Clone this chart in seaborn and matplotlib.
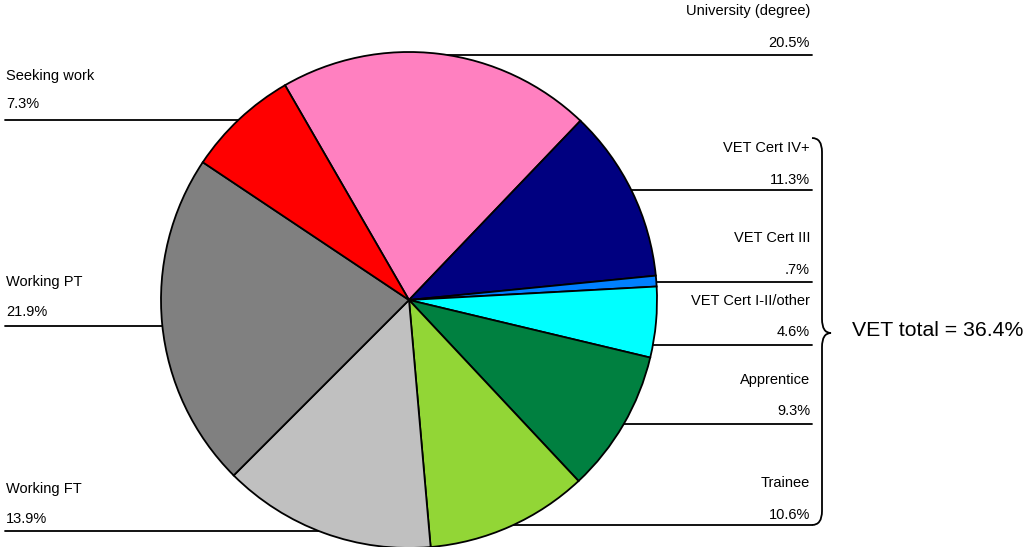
import numpy as np
import matplotlib
matplotlib.use("Agg")
import matplotlib.pyplot as plt
from matplotlib.path import Path
from matplotlib.patches import PathPatch
import seaborn as sns

# slice data, clockwise from the top
labels = ["University (degree)", "VET Cert IV+", "VET Cert III", "VET Cert I-II/other",
          "Apprentice", "Trainee", "Working FT", "Working PT", "Seeking work"]
shares = [20.5, 11.3, 0.7, 4.6, 9.3, 10.6, 13.9, 21.9, 7.3]
pct_text = ["20.5%", "11.3%", ".7%", "4.6%", "9.3%", "10.6%", "13.9%", "21.9%", "7.3%"]
colors = ["#FF80C0", "#000080", "#0080FF", "#00FFFF", "#008040",
          "#92D636", "#C0C0C0", "#808080", "#FF0000"]
vet_total = "VET total = 36.4%"

sns.set_style("white")
plt.rcParams['font.family'] = ['Liberation Sans', 'DejaVu Sans']
plt.rcParams['text.color'] = 'black'

W, H = 1026, 547
fig = plt.figure(figsize=(W / 100, H / 100), dpi=100)
ax = fig.add_axes([0, 0, 1, 1])

# pie geometry in pixel units (y measured from bottom)
cx, cy, r = 409, H - 300, 248

ax.pie(shares, colors=colors, startangle=120, counterclock=False,
       center=(cx, cy), radius=r,
       wedgeprops=dict(edgecolor="black", linewidth=1.3))

# label layout: (side, label y, pct y, line y) in pixels from top
layout = [
    ("R", 11, 43, 55),
    ("R", 148, 180, 190),
    ("R", 238, 270, 282),
    ("R", 301, 332, 345),
    ("R", 380, 411, 424),
    ("R", 483, 515, 525),
    ("L", 489, 519, 531),
    ("L", 282, 312, 326),
    ("L", 76, 104, 120),
]

for lab, pct, (side, ly, py, liney) in zip(labels, pct_text, layout):
    yl = H - liney
    dy = min(abs(yl - cy), r)
    edge = np.sqrt(r ** 2 - dy ** 2)
    if side == "R":
        x0, x1, tx, ha = cx + edge - 30, 812, 810, "right"
    else:
        x0, x1, tx, ha = 5, cx - edge + 30, 6, "left"
    ax.plot([x0, x1], [yl, yl], color="black", lw=1.3, zorder=0)
    ax.text(tx, H - ly, lab, ha=ha, va="center", fontsize=10.5, color="black")
    ax.text(tx, H - py, pct, ha=ha, va="center", fontsize=10.5, color="black")

# curly brace around the VET slices
top, bot, tip = H - 138, H - 525, H - 333
xb, xm, xt = 812, 822, 831
verts = [(xb, top), (xm, top), (xm, top - 14),
         (xm, tip + 14),
         (xm, tip), (xt, tip),
         (xm, tip), (xm, tip - 14),
         (xm, bot + 14),
         (xm, bot), (xb, bot)]
codes = [Path.MOVETO, Path.CURVE3, Path.CURVE3,
         Path.LINETO,
         Path.CURVE3, Path.CURVE3,
         Path.CURVE3, Path.CURVE3,
         Path.LINETO,
         Path.CURVE3, Path.CURVE3]
ax.add_patch(PathPatch(Path(verts, codes), fill=False, lw=1.3, edgecolor="black"))

ax.text(852, H - 330, vet_total, ha="left", va="center", fontsize=15.3, color="black")

ax.set_xlim(0, W)
ax.set_ylim(0, H)
ax.set_aspect("equal")
ax.axis("off")

plt.savefig("out.png", dpi=100)
